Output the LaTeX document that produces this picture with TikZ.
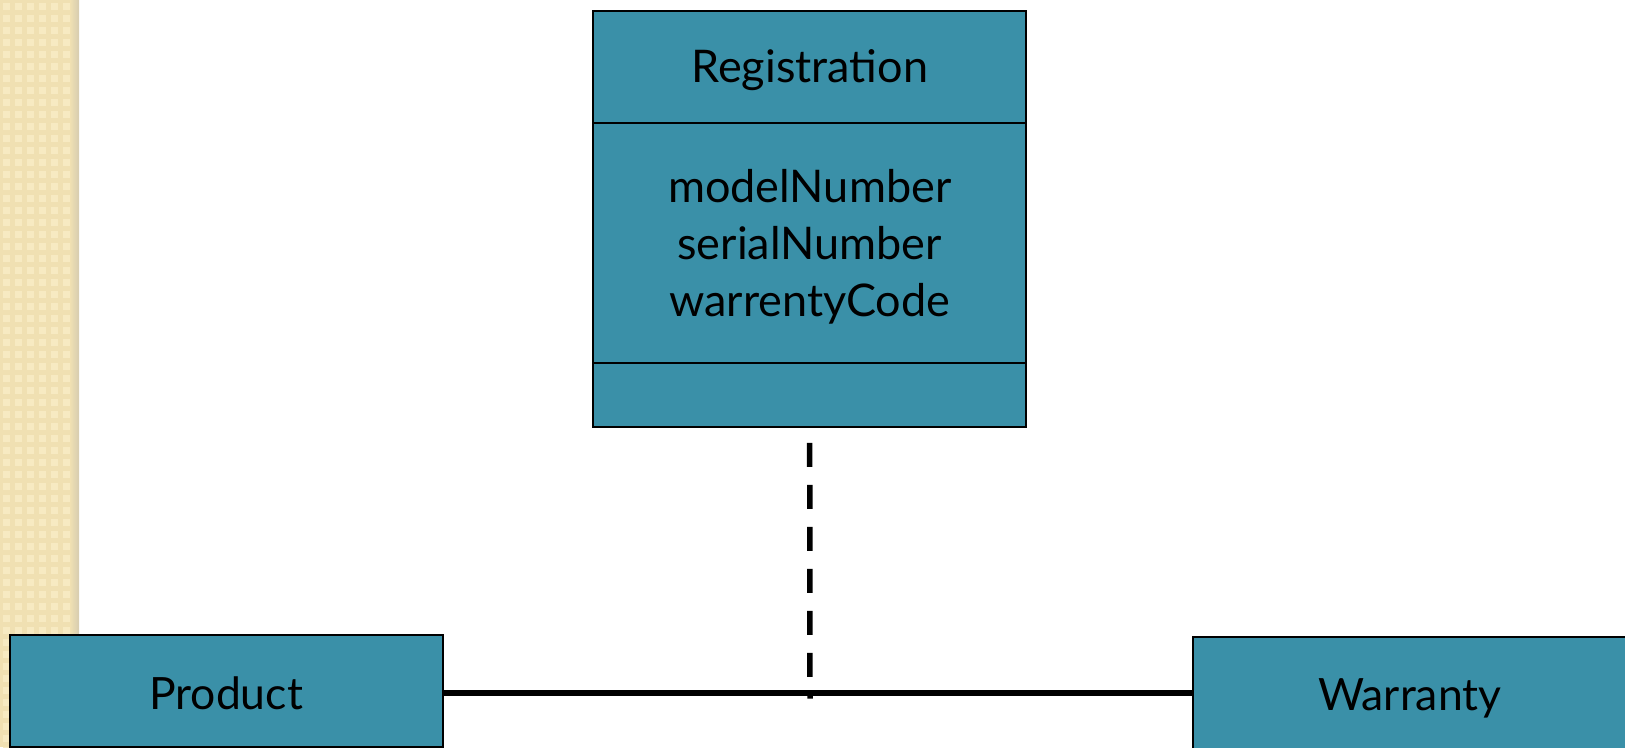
\documentclass[tikz,border=0pt]{standalone}
\usepackage{fontspec}
\setmainfont{Lato}
\usepackage{tikz}
\usetikzlibrary{positioning}

\definecolor{classfill}{RGB}{58,144,168}
\definecolor{paper}{RGB}{240,224,178}
\definecolor{paperlight}{RGB}{247,234,194}
\definecolor{papershade}{RGB}{214,204,176}

% sets text with its baseline a given distance below the node centre
\newcommand{\drop}[2]{\raisebox{-#1}[0pt][0pt]{#2}}

\begin{document}
\begin{tikzpicture}[x=1pt, y=-1pt,
    box/.style={draw=black, line width=2pt, fill=classfill, outer sep=0pt,
      inner sep=0pt, minimum width=433pt, align=center},
    classtext/.style={font=\fontsize{45}{57}\selectfont},
    endtext/.style={font=\fontsize{44.5}{57}\selectfont},
    link/.style={line width=5.5pt},
    depends/.style={line width=5.5pt, dash pattern=on 24pt off 18pt}]

    \path[use as bounding box, clip] (0,0) rectangle (1625,747);

    % paper strip down the left side
    \fill[paper] (0,0) rectangle (79,747);
    \foreach \i in {0,...,5} {
      \foreach \j in {0,...,62} {
        \fill[paperlight] (\i*12+3, \j*12+3) rectangle +(7,7);
      }
    }
    \shade[left color=paper, right color=papershade] (70,0) rectangle (79,747);

    % class with its three compartments
    \node[box, classtext, minimum height=111.7pt] (reghead) at (809.7,66.9)
      {\drop{16pt}{Registration}};
    \node[box, classtext, minimum height=240pt, below=0pt of reghead] (regattr)
      {\drop{-40pt}{\parbox[t]{400pt}{\centering
        modelNumber\\ serialNumber\\ warrentyCode}}};
    \node[box, minimum height=64pt, below=0pt of regattr] (regops) {};

    \node[box, endtext, minimum height=112pt] (product) at (226,690.5)
      {\drop{18.5pt}{Product}};
    \node[box, endtext, minimum height=112pt] (warranty) at (1409.8,693)
      {\drop{17.7pt}{Warranty}};

    \coordinate (mid) at (810,693);

    \draw[link] (product.east |- mid) -- (warranty.west |- mid);
    \draw[depends] ([yshift=-16pt]regops.south) -- ([yshift=-5.5pt]mid);

\end{tikzpicture}
\end{document}
